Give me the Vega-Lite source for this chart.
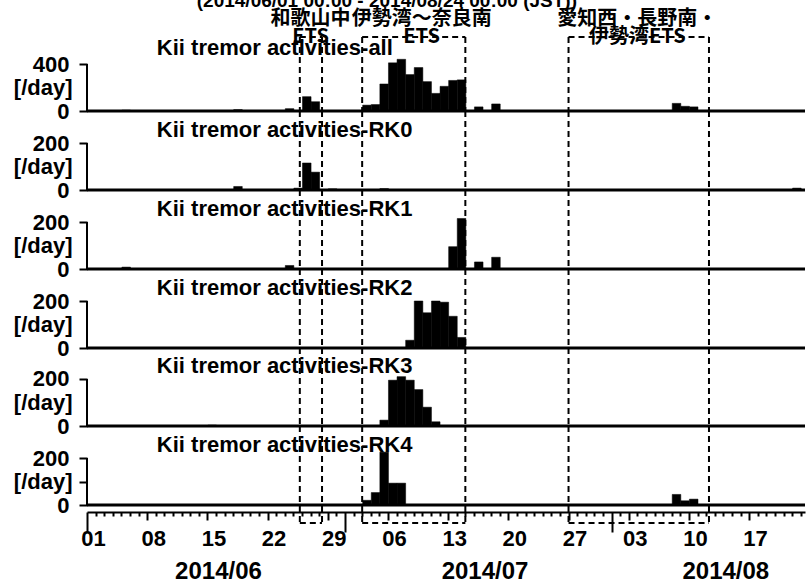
{
  "$schema": "https://vega.github.io/schema/vega-lite/v6.json",
  "padding": {"left": 13, "top": -8, "right": 0, "bottom": 0},
  "background": "white",
  "config": {"view": {"stroke": null}, "font": "Liberation Sans"},
  "spacing": 0,
  "bounds": "flush",
  "datasets": {
    "counts": [
      {"p": "all", "d": "2014-06-05", "n": 8},
      {"p": "all", "d": "2014-06-18", "n": 12},
      {"p": "all", "d": "2014-06-24", "n": 20},
      {"p": "all", "d": "2014-06-26", "n": 122},
      {"p": "all", "d": "2014-06-27", "n": 79},
      {"p": "all", "d": "2014-07-03", "n": 50},
      {"p": "all", "d": "2014-07-04", "n": 55},
      {"p": "all", "d": "2014-07-05", "n": 230},
      {"p": "all", "d": "2014-07-06", "n": 410},
      {"p": "all", "d": "2014-07-07", "n": 440},
      {"p": "all", "d": "2014-07-08", "n": 310},
      {"p": "all", "d": "2014-07-09", "n": 370},
      {"p": "all", "d": "2014-07-10", "n": 250},
      {"p": "all", "d": "2014-07-11", "n": 150},
      {"p": "all", "d": "2014-07-12", "n": 210},
      {"p": "all", "d": "2014-07-13", "n": 260},
      {"p": "all", "d": "2014-07-14", "n": 265},
      {"p": "all", "d": "2014-07-16", "n": 35},
      {"p": "all", "d": "2014-07-18", "n": 60},
      {"p": "all", "d": "2014-08-08", "n": 65},
      {"p": "all", "d": "2014-08-09", "n": 40},
      {"p": "all", "d": "2014-08-10", "n": 35},
      {"p": "RK0", "d": "2014-06-18", "n": 15},
      {"p": "RK0", "d": "2014-06-25", "n": 8},
      {"p": "RK0", "d": "2014-06-26", "n": 115},
      {"p": "RK0", "d": "2014-06-27", "n": 76},
      {"p": "RK0", "d": "2014-06-29", "n": 5},
      {"p": "RK0", "d": "2014-07-05", "n": 6},
      {"p": "RK0", "d": "2014-08-22", "n": 8},
      {"p": "RK1", "d": "2014-06-05", "n": 8},
      {"p": "RK1", "d": "2014-06-24", "n": 15},
      {"p": "RK1", "d": "2014-07-13", "n": 95},
      {"p": "RK1", "d": "2014-07-14", "n": 215},
      {"p": "RK1", "d": "2014-07-16", "n": 30},
      {"p": "RK1", "d": "2014-07-18", "n": 50},
      {"p": "RK2", "d": "2014-07-08", "n": 33},
      {"p": "RK2", "d": "2014-07-09", "n": 200},
      {"p": "RK2", "d": "2014-07-10", "n": 150},
      {"p": "RK2", "d": "2014-07-11", "n": 200},
      {"p": "RK2", "d": "2014-07-12", "n": 195},
      {"p": "RK2", "d": "2014-07-13", "n": 135},
      {"p": "RK2", "d": "2014-07-14", "n": 45},
      {"p": "RK3", "d": "2014-06-15", "n": 4},
      {"p": "RK3", "d": "2014-07-05", "n": 25},
      {"p": "RK3", "d": "2014-07-06", "n": 195},
      {"p": "RK3", "d": "2014-07-07", "n": 210},
      {"p": "RK3", "d": "2014-07-08", "n": 195},
      {"p": "RK3", "d": "2014-07-09", "n": 155},
      {"p": "RK3", "d": "2014-07-10", "n": 80},
      {"p": "RK3", "d": "2014-07-11", "n": 18},
      {"p": "RK4", "d": "2014-07-03", "n": 20},
      {"p": "RK4", "d": "2014-07-04", "n": 53},
      {"p": "RK4", "d": "2014-07-05", "n": 225},
      {"p": "RK4", "d": "2014-07-06", "n": 93},
      {"p": "RK4", "d": "2014-07-07", "n": 93},
      {"p": "RK4", "d": "2014-08-08", "n": 45},
      {"p": "RK4", "d": "2014-08-09", "n": 18},
      {"p": "RK4", "d": "2014-08-10", "n": 25}
    ],
    "boxes": [
      {"s": "2014-06-25T18:00:00Z", "e": "2014-06-28T08:00:00Z", "m": "2014-06-27T00:00:00Z", "lab": ["和歌山中", "ETS"]},
      {"s": "2014-07-03T00:00:00Z", "e": "2014-07-15T00:00:00Z", "m": "2014-07-09T22:00:00Z", "lab": ["伊勢湾～奈良南", "ETS"]},
      {"s": "2014-07-27T00:00:00Z", "e": "2014-08-12T08:00:00Z", "m": "2014-08-04T00:00:00Z", "lab": ["愛知西・長野南・", "伊勢湾ETS"]}
    ]
  },
  "vconcat": [
    {
      "width": 718, "height": 74,
      "layer": [
        {"data": {"name": "counts"}, "transform": [{"filter": "datum.p == 'all'"}], "mark": {"type": "bar", "color": "black", "binSpacing": 0, "stroke": "black", "strokeWidth": 0.5},
         "encoding": {
           "x": {"field": "d", "type": "temporal", "timeUnit": "utcyearmonthdate", "scale": {"type": "utc", "domain": [{"year": 2014, "month": 6, "date": 1, "utc": true}, {"year": 2014, "month": 8, "date": 23, "hours": 12, "utc": true}]}, "axis": null},
           "y": {"field": "n", "type": "quantitative", "scale": {"domain": [0, 629.8], "nice": false, "zero": false},
                 "axis": {"values": [0, 100, 200, 300, 400], "labelExpr": "datum.value == 0 || datum.value == 400 ? datum.label : ''", "domain": false, "grid": false, "tickSize": 8, "tickWidth": 2, "tickColor": "black", "labelFont": "Liberation Sans", "labelFontSize": 22, "labelFontWeight": "bold", "labelColor": "black", "labelPadding": 10, "labelOverlap": false, "title": "[/day]", "titleAngle": 0, "titleAlign": "right", "titleBaseline": "middle", "titleX": -15, "titleY": 50.5, "titleFont": "Liberation Sans", "titleFontSize": 22, "titleFontWeight": "bold", "titleColor": "black"}},
           "y2": {"datum": 0}
         }},
        {"data": {"name": "boxes"}, "mark": {"type": "rule", "strokeDash": [6, 4], "strokeWidth": 2, "color": "black"}, "encoding": {"x": {"field": "s", "type": "temporal"}}},
        {"data": {"name": "boxes"}, "mark": {"type": "rule", "strokeDash": [6, 4], "strokeWidth": 2, "color": "black"}, "encoding": {"x": {"field": "e", "type": "temporal"}}},
        {"data": {"name": "boxes"}, "mark": {"type": "rule", "strokeDash": [6, 4], "strokeWidth": 2, "color": "black"}, "encoding": {"x": {"field": "s", "type": "temporal"}, "x2": {"field": "e"}, "y": {"datum": 629.8, "type": "quantitative"}}},
        {"data": {"values": [{}]}, "mark": {"type": "rule", "strokeWidth": 3, "color": "black"}, "encoding": {"y": {"datum": 0, "type": "quantitative"}}},
        {"data": {"values": [{}]}, "mark": {"type": "rule", "strokeWidth": 2, "color": "black"}, "encoding": {"x": {"datum": {"year": 2014, "month": 6, "date": 1, "utc": true}, "type": "temporal"}, "y": {"datum": 0, "type": "quantitative"}, "y2": {"datum": 400}}},
        {"data": {"values": [{}]}, "mark": {"type": "text", "font": "Liberation Sans", "fontWeight": "bold", "fontSize": 22, "baseline": "alphabetic", "align": "left", "dy": -9, "color": "black", "text": "Kii tremor activities-all"}, "encoding": {"x": {"datum": {"year": 2014, "month": 6, "date": 9, "hours": 3, "utc": true}, "type": "temporal"}, "y": {"datum": 400, "type": "quantitative"}}},
        {"data": {"name": "boxes"}, "mark": {"type": "text", "font": "Noto Sans CJK JP", "fontWeight": "bold", "fontSize": 20, "baseline": "alphabetic", "align": "center", "dy": -12, "lineHeight": 18, "color": "black"}, "encoding": {"x": {"field": "m", "type": "temporal"}, "y": {"datum": 629.8, "type": "quantitative"}, "text": {"field": "lab"}}},
        {"data": {"values": [{}]}, "mark": {"type": "text", "font": "Liberation Sans", "fontWeight": "bold", "fontSize": 19, "baseline": "alphabetic", "align": "center", "dy": -30, "color": "black", "text": "(2014/06/01 00:00 - 2014/08/24 00:00 (JST))"}, "encoding": {"x": {"datum": {"year": 2014, "month": 7, "date": 5, "hours": 21, "utc": true}, "type": "temporal"}, "y": {"datum": 629.8, "type": "quantitative"}}}
      ]
    },
    {
      "width": 718, "height": 79,
      "layer": [
        {"data": {"name": "counts"}, "transform": [{"filter": "datum.p == 'RK0'"}], "mark": {"type": "bar", "color": "black", "binSpacing": 0, "stroke": "black", "strokeWidth": 0.5},
         "encoding": {
           "x": {"field": "d", "type": "temporal", "timeUnit": "utcyearmonthdate", "scale": {"type": "utc", "domain": [{"year": 2014, "month": 6, "date": 1, "utc": true}, {"year": 2014, "month": 8, "date": 23, "hours": 12, "utc": true}]}, "axis": null},
           "y": {"field": "n", "type": "quantitative", "scale": {"domain": [0, 336.2], "nice": false, "zero": false},
                 "axis": {"values": [0, 50, 100, 150, 200], "labelExpr": "datum.value == 0 || datum.value == 200 ? datum.label : ''", "domain": false, "grid": false, "tickSize": 8, "tickWidth": 2, "tickColor": "black", "labelFont": "Liberation Sans", "labelFontSize": 22, "labelFontWeight": "bold", "labelColor": "black", "labelPadding": 10, "labelOverlap": false, "title": "[/day]", "titleAngle": 0, "titleAlign": "right", "titleBaseline": "middle", "titleX": -15, "titleY": 55.5, "titleFont": "Liberation Sans", "titleFontSize": 22, "titleFontWeight": "bold", "titleColor": "black"}},
           "y2": {"datum": 0}
         }},
        {"data": {"name": "boxes"}, "mark": {"type": "rule", "strokeDash": [6, 4], "strokeWidth": 2, "color": "black"}, "encoding": {"x": {"field": "s", "type": "temporal"}}},
        {"data": {"name": "boxes"}, "mark": {"type": "rule", "strokeDash": [6, 4], "strokeWidth": 2, "color": "black"}, "encoding": {"x": {"field": "e", "type": "temporal"}}},
        {"data": {"values": [{}]}, "mark": {"type": "rule", "strokeWidth": 3, "color": "black"}, "encoding": {"y": {"datum": 0, "type": "quantitative"}}},
        {"data": {"values": [{}]}, "mark": {"type": "rule", "strokeWidth": 2, "color": "black"}, "encoding": {"x": {"datum": {"year": 2014, "month": 6, "date": 1, "utc": true}, "type": "temporal"}, "y": {"datum": 0, "type": "quantitative"}, "y2": {"datum": 200}}},
        {"data": {"values": [{}]}, "mark": {"type": "text", "font": "Liberation Sans", "fontWeight": "bold", "fontSize": 22, "baseline": "alphabetic", "align": "left", "dy": -6, "color": "black", "text": "Kii tremor activities-RK0"}, "encoding": {"x": {"datum": {"year": 2014, "month": 6, "date": 9, "hours": 3, "utc": true}, "type": "temporal"}, "y": {"datum": 200, "type": "quantitative"}}}
      ]
    },
    {
      "width": 718, "height": 79,
      "layer": [
        {"data": {"name": "counts"}, "transform": [{"filter": "datum.p == 'RK1'"}], "mark": {"type": "bar", "color": "black", "binSpacing": 0, "stroke": "black", "strokeWidth": 0.5},
         "encoding": {
           "x": {"field": "d", "type": "temporal", "timeUnit": "utcyearmonthdate", "scale": {"type": "utc", "domain": [{"year": 2014, "month": 6, "date": 1, "utc": true}, {"year": 2014, "month": 8, "date": 23, "hours": 12, "utc": true}]}, "axis": null},
           "y": {"field": "n", "type": "quantitative", "scale": {"domain": [0, 336.2], "nice": false, "zero": false},
                 "axis": {"values": [0, 50, 100, 150, 200], "labelExpr": "datum.value == 0 || datum.value == 200 ? datum.label : ''", "domain": false, "grid": false, "tickSize": 8, "tickWidth": 2, "tickColor": "black", "labelFont": "Liberation Sans", "labelFontSize": 22, "labelFontWeight": "bold", "labelColor": "black", "labelPadding": 10, "labelOverlap": false, "title": "[/day]", "titleAngle": 0, "titleAlign": "right", "titleBaseline": "middle", "titleX": -15, "titleY": 55.5, "titleFont": "Liberation Sans", "titleFontSize": 22, "titleFontWeight": "bold", "titleColor": "black"}},
           "y2": {"datum": 0}
         }},
        {"data": {"name": "boxes"}, "mark": {"type": "rule", "strokeDash": [6, 4], "strokeWidth": 2, "color": "black"}, "encoding": {"x": {"field": "s", "type": "temporal"}}},
        {"data": {"name": "boxes"}, "mark": {"type": "rule", "strokeDash": [6, 4], "strokeWidth": 2, "color": "black"}, "encoding": {"x": {"field": "e", "type": "temporal"}}},
        {"data": {"values": [{}]}, "mark": {"type": "rule", "strokeWidth": 3, "color": "black"}, "encoding": {"y": {"datum": 0, "type": "quantitative"}}},
        {"data": {"values": [{}]}, "mark": {"type": "rule", "strokeWidth": 2, "color": "black"}, "encoding": {"x": {"datum": {"year": 2014, "month": 6, "date": 1, "utc": true}, "type": "temporal"}, "y": {"datum": 0, "type": "quantitative"}, "y2": {"datum": 200}}},
        {"data": {"values": [{}]}, "mark": {"type": "text", "font": "Liberation Sans", "fontWeight": "bold", "fontSize": 22, "baseline": "alphabetic", "align": "left", "dy": -6, "color": "black", "text": "Kii tremor activities-RK1"}, "encoding": {"x": {"datum": {"year": 2014, "month": 6, "date": 9, "hours": 3, "utc": true}, "type": "temporal"}, "y": {"datum": 200, "type": "quantitative"}}}
      ]
    },
    {
      "width": 718, "height": 79,
      "layer": [
        {"data": {"name": "counts"}, "transform": [{"filter": "datum.p == 'RK2'"}], "mark": {"type": "bar", "color": "black", "binSpacing": 0, "stroke": "black", "strokeWidth": 0.5},
         "encoding": {
           "x": {"field": "d", "type": "temporal", "timeUnit": "utcyearmonthdate", "scale": {"type": "utc", "domain": [{"year": 2014, "month": 6, "date": 1, "utc": true}, {"year": 2014, "month": 8, "date": 23, "hours": 12, "utc": true}]}, "axis": null},
           "y": {"field": "n", "type": "quantitative", "scale": {"domain": [0, 336.2], "nice": false, "zero": false},
                 "axis": {"values": [0, 50, 100, 150, 200], "labelExpr": "datum.value == 0 || datum.value == 200 ? datum.label : ''", "domain": false, "grid": false, "tickSize": 8, "tickWidth": 2, "tickColor": "black", "labelFont": "Liberation Sans", "labelFontSize": 22, "labelFontWeight": "bold", "labelColor": "black", "labelPadding": 10, "labelOverlap": false, "title": "[/day]", "titleAngle": 0, "titleAlign": "right", "titleBaseline": "middle", "titleX": -15, "titleY": 55.5, "titleFont": "Liberation Sans", "titleFontSize": 22, "titleFontWeight": "bold", "titleColor": "black"}},
           "y2": {"datum": 0}
         }},
        {"data": {"name": "boxes"}, "mark": {"type": "rule", "strokeDash": [6, 4], "strokeWidth": 2, "color": "black"}, "encoding": {"x": {"field": "s", "type": "temporal"}}},
        {"data": {"name": "boxes"}, "mark": {"type": "rule", "strokeDash": [6, 4], "strokeWidth": 2, "color": "black"}, "encoding": {"x": {"field": "e", "type": "temporal"}}},
        {"data": {"values": [{}]}, "mark": {"type": "rule", "strokeWidth": 3, "color": "black"}, "encoding": {"y": {"datum": 0, "type": "quantitative"}}},
        {"data": {"values": [{}]}, "mark": {"type": "rule", "strokeWidth": 2, "color": "black"}, "encoding": {"x": {"datum": {"year": 2014, "month": 6, "date": 1, "utc": true}, "type": "temporal"}, "y": {"datum": 0, "type": "quantitative"}, "y2": {"datum": 200}}},
        {"data": {"values": [{}]}, "mark": {"type": "text", "font": "Liberation Sans", "fontWeight": "bold", "fontSize": 22, "baseline": "alphabetic", "align": "left", "dy": -6, "color": "black", "text": "Kii tremor activities-RK2"}, "encoding": {"x": {"datum": {"year": 2014, "month": 6, "date": 9, "hours": 3, "utc": true}, "type": "temporal"}, "y": {"datum": 200, "type": "quantitative"}}}
      ]
    },
    {
      "width": 718, "height": 78,
      "layer": [
        {"data": {"name": "counts"}, "transform": [{"filter": "datum.p == 'RK3'"}], "mark": {"type": "bar", "color": "black", "binSpacing": 0, "stroke": "black", "strokeWidth": 0.5},
         "encoding": {
           "x": {"field": "d", "type": "temporal", "timeUnit": "utcyearmonthdate", "scale": {"type": "utc", "domain": [{"year": 2014, "month": 6, "date": 1, "utc": true}, {"year": 2014, "month": 8, "date": 23, "hours": 12, "utc": true}]}, "axis": null},
           "y": {"field": "n", "type": "quantitative", "scale": {"domain": [0, 331.9], "nice": false, "zero": false},
                 "axis": {"values": [0, 50, 100, 150, 200], "labelExpr": "datum.value == 0 || datum.value == 200 ? datum.label : ''", "domain": false, "grid": false, "tickSize": 8, "tickWidth": 2, "tickColor": "black", "labelFont": "Liberation Sans", "labelFontSize": 22, "labelFontWeight": "bold", "labelColor": "black", "labelPadding": 10, "labelOverlap": false, "title": "[/day]", "titleAngle": 0, "titleAlign": "right", "titleBaseline": "middle", "titleX": -15, "titleY": 54.5, "titleFont": "Liberation Sans", "titleFontSize": 22, "titleFontWeight": "bold", "titleColor": "black"}},
           "y2": {"datum": 0}
         }},
        {"data": {"name": "boxes"}, "mark": {"type": "rule", "strokeDash": [6, 4], "strokeWidth": 2, "color": "black"}, "encoding": {"x": {"field": "s", "type": "temporal"}}},
        {"data": {"name": "boxes"}, "mark": {"type": "rule", "strokeDash": [6, 4], "strokeWidth": 2, "color": "black"}, "encoding": {"x": {"field": "e", "type": "temporal"}}},
        {"data": {"values": [{}]}, "mark": {"type": "rule", "strokeWidth": 3, "color": "black"}, "encoding": {"y": {"datum": 0, "type": "quantitative"}}},
        {"data": {"values": [{}]}, "mark": {"type": "rule", "strokeWidth": 2, "color": "black"}, "encoding": {"x": {"datum": {"year": 2014, "month": 6, "date": 1, "utc": true}, "type": "temporal"}, "y": {"datum": 0, "type": "quantitative"}, "y2": {"datum": 200}}},
        {"data": {"values": [{}]}, "mark": {"type": "text", "font": "Liberation Sans", "fontWeight": "bold", "fontSize": 22, "baseline": "alphabetic", "align": "left", "dy": -6, "color": "black", "text": "Kii tremor activities-RK3"}, "encoding": {"x": {"datum": {"year": 2014, "month": 6, "date": 9, "hours": 3, "utc": true}, "type": "temporal"}, "y": {"datum": 200, "type": "quantitative"}}}
      ]
    },
    {
      "width": 718, "height": 97,
      "layer": [
        {"data": {"name": "counts"}, "transform": [{"filter": "datum.p == 'RK4'"}], "mark": {"type": "bar", "color": "black", "binSpacing": 0, "stroke": "black", "strokeWidth": 0.5},
         "encoding": {
           "x": {"field": "d", "type": "temporal", "timeUnit": "utcyearmonthdate", "scale": {"type": "utc", "domain": [{"year": 2014, "month": 6, "date": 1, "utc": true}, {"year": 2014, "month": 8, "date": 23, "hours": 12, "utc": true}]},
                 "axis": {"orient": "bottom", "offset": -11, "tickCount": {"interval": "day", "step": 1}, "domain": true, "domainWidth": 2, "domainColor": "black", "grid": false, "ticks": true, "tickWidth": 2, "tickColor": "black",
                          "tickSize": {"condition": [{"test": "utcdate(datum.value) == 1", "value": 20}, {"test": "round((datum.value - utc(2014,5,1))/86400000) % 7 == 0", "value": 8}], "value": 4},
                          "labelPadding": {"condition": [{"test": "utcdate(datum.value) == 1", "value": -4}, {"test": "round((datum.value - utc(2014,5,1))/86400000) % 7 == 0", "value": 8}, {"test": "indexof(['06-16','07-17','08-14'], utcFormat(datum.value, '%m-%d')) >= 0", "value": 43}], "value": 12},
                          "labelFontSize": {"condition": {"test": "indexof(['06-16','07-17','08-14'], utcFormat(datum.value, '%m-%d')) >= 0", "value": 24}, "value": 22},
                          "labelOffset": {"condition": {"test": "indexof(['06-16','07-17','08-14'], utcFormat(datum.value, '%m-%d')) >= 0", "value": 2}, "value": 6},
                          "labelExpr": "(round((datum.value - utc(2014,5,1))/86400000) % 7 == 0) ? utcFormat(datum.value, '%d') : (indexof(['06-16','07-17','08-14'], utcFormat(datum.value, '%m-%d')) >= 0 ? utcFormat(datum.value, '%Y/%m') : '')",
                          "labelFont": "Liberation Sans", "labelFontWeight": "bold", "labelColor": "black", "labelOverlap": false, "labelBound": false, "labelFlush": false, "labelAngle": 0, "title": null}},
           "y": {"field": "n", "type": "quantitative", "scale": {"domain": [-76.6, 336.2], "nice": false, "zero": false},
                 "axis": {"values": [0, 50, 100, 150, 200], "labelExpr": "datum.value == 0 || datum.value == 200 ? datum.label : ''", "domain": false, "grid": false, "tickSize": 8, "tickWidth": 2, "tickColor": "black", "labelFont": "Liberation Sans", "labelFontSize": 22, "labelFontWeight": "bold", "labelColor": "black", "labelPadding": 10, "labelOverlap": false, "title": "[/day]", "titleAngle": 0, "titleAlign": "right", "titleBaseline": "middle", "titleX": -15, "titleY": 55.5, "titleFont": "Liberation Sans", "titleFontSize": 22, "titleFontWeight": "bold", "titleColor": "black"}},
           "y2": {"datum": 0}
         }},
        {"data": {"name": "boxes"}, "mark": {"type": "rule", "strokeDash": [6, 4], "strokeWidth": 2, "color": "black"}, "encoding": {"x": {"field": "s", "type": "temporal"}}},
        {"data": {"name": "boxes"}, "mark": {"type": "rule", "strokeDash": [6, 4], "strokeWidth": 2, "color": "black"}, "encoding": {"x": {"field": "e", "type": "temporal"}}},
        {"data": {"name": "boxes"}, "mark": {"type": "rule", "strokeDash": [6, 4], "strokeWidth": 2, "color": "black"}, "encoding": {"x": {"field": "s", "type": "temporal"}, "x2": {"field": "e"}, "y": {"datum": -76.6, "type": "quantitative"}}},
        {"data": {"values": [{}]}, "mark": {"type": "rule", "strokeWidth": 3, "color": "black"}, "encoding": {"y": {"datum": 0, "type": "quantitative"}}},
        {"data": {"values": [{}]}, "mark": {"type": "rule", "strokeWidth": 2, "color": "black"}, "encoding": {"x": {"datum": {"year": 2014, "month": 6, "date": 1, "utc": true}, "type": "temporal"}, "y": {"datum": 0, "type": "quantitative"}, "y2": {"datum": 200}}},
        {"data": {"values": [{}]}, "mark": {"type": "text", "font": "Liberation Sans", "fontWeight": "bold", "fontSize": 22, "baseline": "alphabetic", "align": "left", "dy": -6, "color": "black", "text": "Kii tremor activities-RK4"}, "encoding": {"x": {"datum": {"year": 2014, "month": 6, "date": 9, "hours": 3, "utc": true}, "type": "temporal"}, "y": {"datum": 200, "type": "quantitative"}}}
      ]
    }
  ]
}
